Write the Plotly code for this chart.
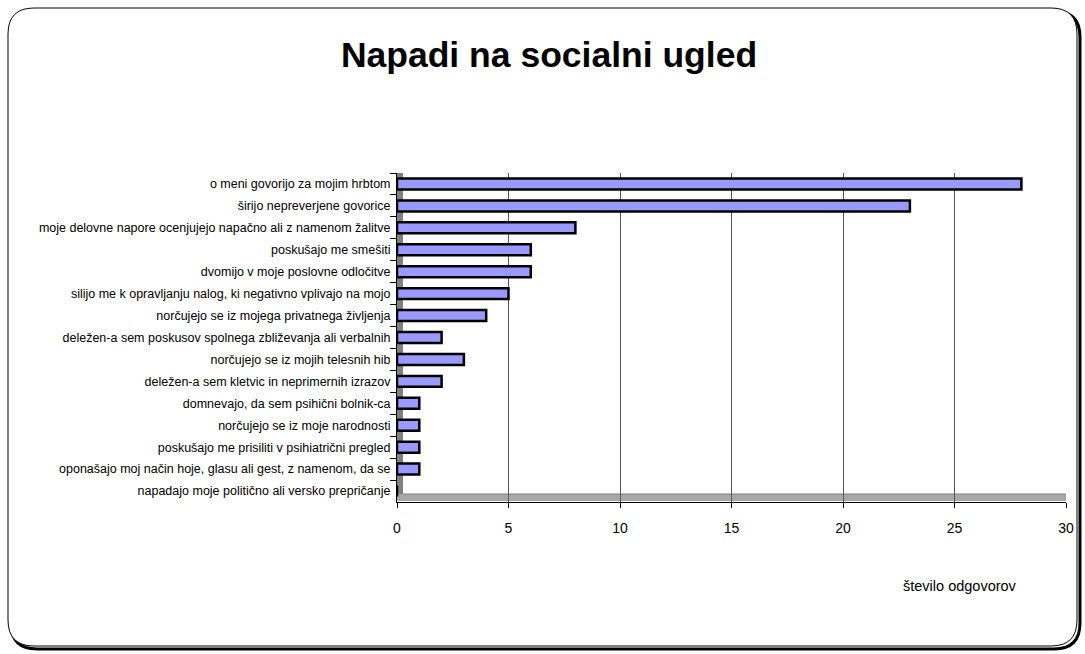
import plotly.graph_objects as go

categories = [
    "o meni govorijo za mojim hrbtom",
    "širijo nepreverjene govorice",
    "moje delovne napore ocenjujejo napačno ali z namenom žalitve",
    "poskušajo me smešiti",
    "dvomijo v moje poslovne odločitve",
    "silijo me k opravljanju nalog, ki negativno vplivajo na mojo",
    "norčujejo se iz mojega privatnega življenja",
    "deležen-a sem poskusov spolnega zbliževanja ali verbalnih",
    "norčujejo se iz mojih telesnih hib",
    "deležen-a sem kletvic in neprimernih izrazov",
    "domnevajo, da sem psihični bolnik-ca",
    "norčujejo se iz moje narodnosti",
    "poskušajo me prisiliti v psihiatrični pregled",
    "oponašajo moj način hoje, glasu ali gest, z namenom, da se",
    "napadajo moje politično ali versko prepričanje",
]
values = [28, 23, 8, 6, 6, 5, 4, 2, 3, 2, 1, 1, 1, 1, 0]
x_ticks = [0, 5, 10, 15, 20, 25, 30]

W, H = 1085, 654
L, R, T, B = 397, 1066, 173, 502

def px(x):
    return (x - L) / (R - L)

def py(y):
    return (B - y) / (B - T)

fig = go.Figure()
fig.add_trace(go.Bar(
    x=values, y=categories, orientation="h",
    marker=dict(color="#9999FF", line=dict(color="black", width=2.5)),
    width=0.5, showlegend=False,
))

def rounded(x0, y0, x1, y1, r):
    return (f"M {px(x0+r)},{py(y0)} L {px(x1-r)},{py(y0)} Q {px(x1)},{py(y0)} {px(x1)},{py(y0+r)} "
            f"L {px(x1)},{py(y1-r)} Q {px(x1)},{py(y1)} {px(x1-r)},{py(y1)} "
            f"L {px(x0+r)},{py(y1)} Q {px(x0)},{py(y1)} {px(x0)},{py(y1-r)} "
            f"L {px(x0)},{py(y0+r)} Q {px(x0)},{py(y0)} {px(x0+r)},{py(y0)} Z")

shapes = [
    dict(type="path", xref="paper", yref="paper", path=rounded(11, 11, 1080, 649, 26),
         line=dict(color="black", width=3), layer="below"),
    dict(type="path", xref="paper", yref="paper", path=rounded(8, 8, 1077, 646, 26),
         line=dict(color="black", width=1), fillcolor="white", layer="below"),
    # white above back plane
    dict(type="rect", xref="paper", yref="paper", x0=px(397), x1=px(1066), y0=py(173), y1=py(169.5),
         fillcolor="white", line=dict(width=0), layer="below"),
    # left wall
    dict(type="rect", xref="paper", yref="paper", x0=px(397), x1=px(403), y0=py(501), y1=py(173),
         fillcolor="#808080", line=dict(width=0), layer="below"),
    # floor
    dict(type="rect", xref="paper", yref="paper", x0=px(397), x1=px(1066), y0=py(501), y1=py(494),
         fillcolor="#A8A8A8", line=dict(width=0), layer="below"),
    dict(type="line", xref="paper", yref="paper", x0=px(403), x1=px(1066), y0=py(494), y1=py(494),
         line=dict(color="#808080", width=1), layer="below"),
]

fig.update_layout(
    width=W, height=H,
    margin=dict(l=L, r=W - R, t=T, b=H - B),
    paper_bgcolor="white",
    plot_bgcolor="#C0C0C0",
    font=dict(family="Arial, Liberation Sans", color="black"),
    title=dict(text="<b>Napadi na socialni ugled</b>", x=549 / W, xref="container",
               y=1 - 55 / H, yref="container", yanchor="middle", xanchor="center",
               font=dict(size=35.5, color="black")),
    shapes=shapes,
    bargap=0.45,
    annotations=[dict(text="število odgovorov", xref="paper", yref="paper",
                      x=px(960), y=py(586), showarrow=False,
                      font=dict(size=14.5), xanchor="center", yanchor="middle")],
)
fig.update_xaxes(range=[0, 30], tickvals=x_ticks, showgrid=True, gridcolor="#555555",
                 gridwidth=1, ticks="outside", ticklen=5, tickcolor="black",
                 showline=True, linecolor="black", linewidth=1, zeroline=False,
                 tickfont=dict(size=14), ticklabelstandoff=8, mirror=False)
fig.update_yaxes(autorange="reversed", tickson="boundaries", ticks="outside", ticklen=6,
                 tickcolor="black", showline=True, linecolor="black", linewidth=1,
                 tickfont=dict(size=12.5), ticklabelstandoff=3, showgrid=False)

fig.write_html("out.html")
